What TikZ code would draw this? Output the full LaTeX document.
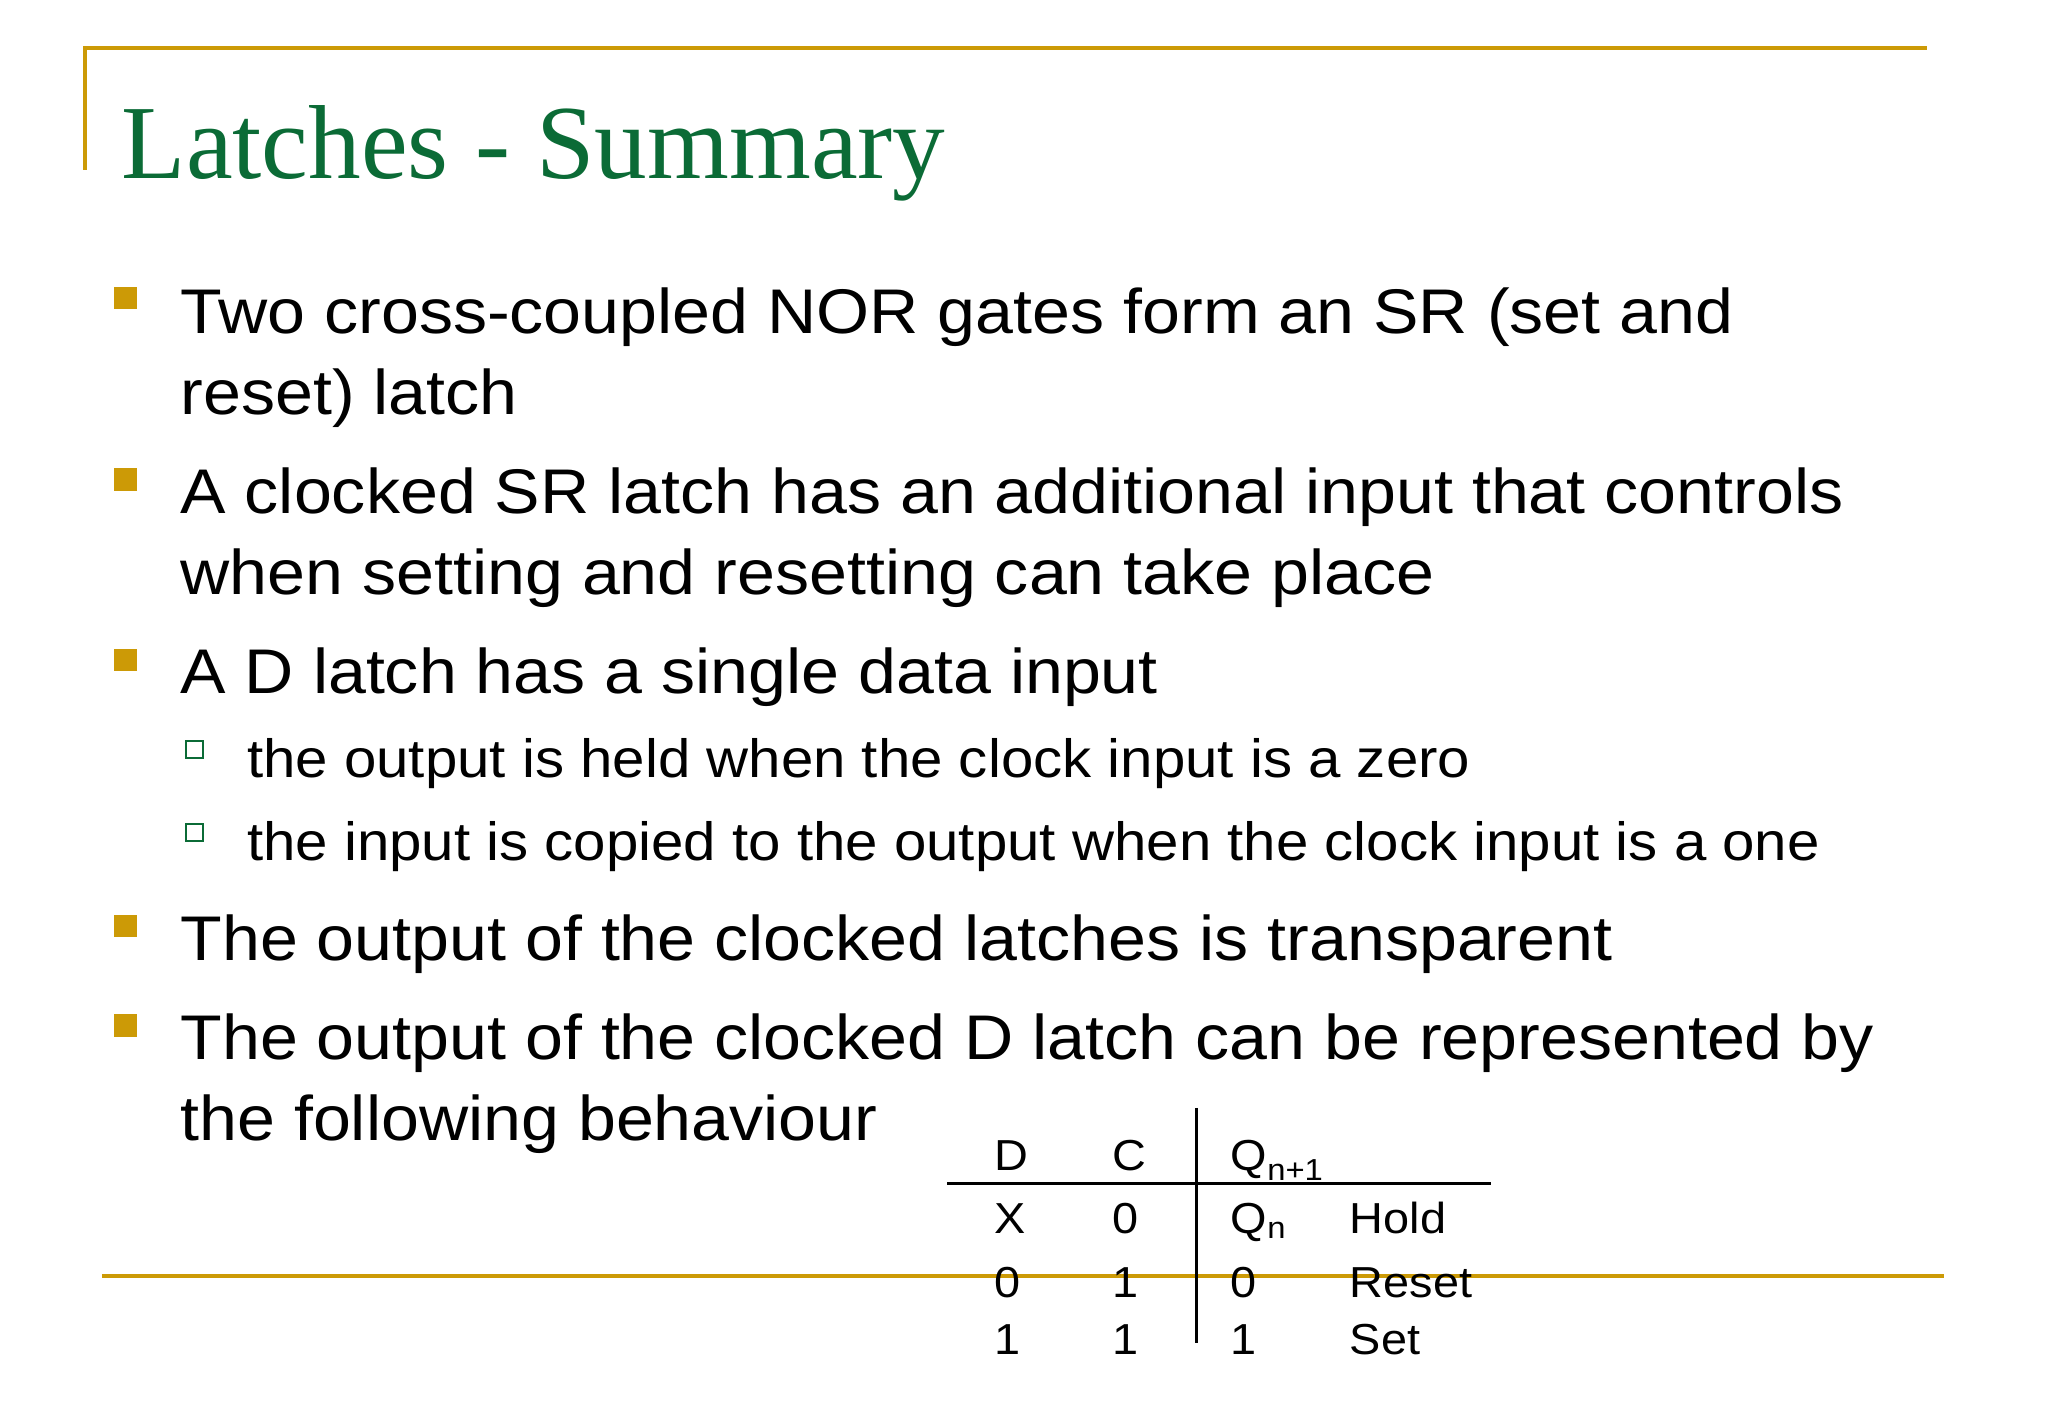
\documentclass[tikz,border=0pt]{standalone}
\usepackage{fontspec}
\setmainfont[FakeStretch=1.08]{Liberation Sans}
\newfontfamily\titlefont{Liberation Serif}
\begin{document}
\begin{tikzpicture}[x=0.99bp,y=-0.99bp,
  gold/.style={draw=goldc,line width=3bp},
  body/.style={anchor=base west,inner sep=0pt,font=\fontsize{48}{48}\selectfont},
  sub/.style={anchor=base west,inner sep=0pt,font=\fontsize{41}{41}\selectfont},
  tab/.style={anchor=base west,inner sep=0pt,font=\fontsize{33}{33}\selectfont},
  bul/.style={fill=goldc,draw=none,minimum size=17bp,inner sep=0pt},
  sbul/.style={draw=greenc,line width=1.5bp,fill=white,minimum size=13bp,inner sep=0pt}]
\definecolor{goldc}{HTML}{CC9A06}
\definecolor{greenc}{HTML}{0B6B36}
\useasboundingbox (0,0) rectangle (1567.7,1085.9);
\coordinate (tl) at (65,37); \coordinate (tr) at (1475,37); \coordinate (lb) at (65,130);
\draw[gold] (lb) -- (tl) -- (tr);
\coordinate (bl) at (78,977); \coordinate (br) at (1488,977);
\draw[gold] (bl) -- (br);
\node[anchor=base west,inner sep=0pt,text=greenc,font=\titlefont\fontsize{80}{80}\selectfont] (title) at (93,137) {Latches - Summary};
\node[bul] (b1) at (96,228) {};
\node[body] (t1) at (138,255) {Two cross-coupled NOR gates form an SR (set and};
\node[body] (t1b) at (138,317) {reset) latch};
\node[bul] (b2) at (96,367) {};
\node[body] (t2) at (138,393) {A clocked SR latch has an additional input that controls};
\node[body] (t2b) at (138,455) {when setting and resetting can take place};
\node[bul] (b3) at (96,505) {};
\node[body] (t3) at (138,531) {A D latch has a single data input};
\node[sbul] (s1) at (149,574) {};
\node[sub] (u1) at (189,595) {the output is held when the clock input is a zero};
\node[sbul] (s2) at (149,637) {};
\node[sub] (u2) at (189,659) {the input is copied to the output when the clock input is a one};
\node[bul] (b4) at (96,709) {};
\node[body] (t4) at (138,735) {The output of the clocked latches is transparent};
\node[bul] (b5) at (96,785) {};
\node[body] (t5) at (138,811) {The output of the clocked D latch can be represented by};
\node[body] (t5b) at (138,873) {the following behaviour};
% table
\node[tab] (hd) at (761,896) {D};
\node[tab] (hc) at (851,896) {C};
\node[tab] (hq) at (942,896) {Q\textsubscript{n+1}};
\node[tab] (r1a) at (761,944) {X};
\node[tab] (r1b) at (851,944) {0};
\node[tab] (r1c) at (942,944) {Q\textsubscript{n}};
\node[tab] (r1d) at (1033,944) {Hold};
\node[tab] (r2a) at (761,993) {0};
\node[tab] (r2b) at (851,993) {1};
\node[tab] (r2c) at (942,993) {0};
\node[tab] (r2d) at (1033,993) {Reset};
\node[tab] (r3a) at (761,1037) {1};
\node[tab] (r3b) at (851,1037) {1};
\node[tab] (r3c) at (942,1037) {1};
\node[tab] (r3d) at (1033,1037) {Set};
\coordinate (hl) at (725,906); \coordinate (hr) at (1141,906);
\coordinate (vt) at (916,848); \coordinate (vb) at (916,1028);
\draw[line width=1.8bp] (hl) -- (hr);
\draw[line width=1.8bp] (vt) -- (vb);
\end{tikzpicture}
\end{document}
